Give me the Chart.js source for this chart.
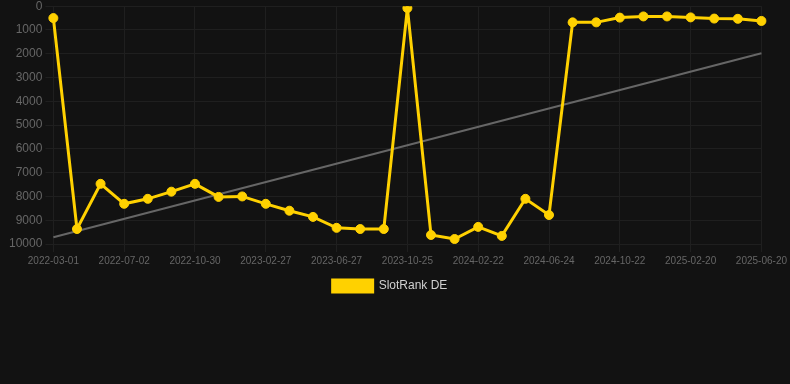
<!DOCTYPE html>
<html>
<head>
<meta charset="utf-8">
<script src="https://cdn.jsdelivr.net/npm/chart.js@4/dist/chart.umd.min.js"></script>
<style>
    html, body { margin: 0; padding: 0; background: #121212; overflow: hidden; }
    #wrap { position: relative; width: 790px; height: 306px; margin-top: -4px; }
</style>
</head>
<body>
<div id="wrap"><canvas id="chart"></canvas></div>
<script>
/* Позиция слота в рейтинге (DE) во времени, ось Y перевёрнута */

const dates = [
    '2022-03-01', '2022-04-11', '2022-05-22', '2022-07-02', '2022-08-11', '2022-09-20',
    '2022-10-30', '2022-12-09', '2023-01-18', '2023-02-27', '2023-04-08', '2023-05-18',
    '2023-06-27', '2023-08-06', '2023-09-15', '2023-10-25', '2023-12-04', '2024-01-13',
    '2024-02-22', '2024-04-03', '2024-05-14', '2024-06-24', '2024-08-03', '2024-09-12',
    '2024-10-22', '2024-12-01', '2025-01-11', '2025-02-20', '2025-04-01', '2025-05-11',
    '2025-06-20',
];
const rankDE = [
    500, 9370, 7470, 8310, 8100, 7800, 7470, 8020, 8000, 8310, 8600, 8860,
    9320, 9370, 9370, 80, 9620, 9790, 9280, 9660, 8100, 8780,
    680, 680, 480, 430, 430, 470, 520, 530, 620,
];
const trendStart = 9720;
const trendEnd = 1980;

const COLOR_RANK = '#ffd100';
const COLOR_TREND = '#666666';
const COLOR_TICK = '#666666';
const COLOR_GRID = '#1f1f1f';
const FONT = 'Liberation Sans, Arial, sans-serif';

const trend = dates.map((d, i) => (i === 0 ? trendStart : i === dates.length - 1 ? trendEnd : null));

new Chart(document.getElementById('chart'), {
    type: 'line',
    data: {
        labels: dates,
        datasets: [
            {
                label: 'SlotRank DE',
                data: rankDE,
                borderColor: COLOR_RANK,
                backgroundColor: COLOR_RANK,
                borderWidth: 3,
                pointRadius: 4.5,
                pointBorderWidth: 1,
                pointHoverRadius: 4.5,
                tension: 0,
            },
            {
                label: 'trend',
                data: trend,
                borderColor: COLOR_TREND,
                borderWidth: 2,
                pointRadius: 0,
                spanGaps: true,
            },
        ],
    },
    options: {
        animation: false,
        responsive: true,
        maintainAspectRatio: false,
        layout: { padding: { top: 0, left: 6, right: 16 } },
        plugins: {
            legend: {
                position: 'bottom',
                labels: {
                    color: '#d0d0d0',
                    boxWidth: 40,
                    boxHeight: 12,
                    font: { size: 12, family: FONT },
                    filter: (item) => item.text !== 'trend',
                },
            },
            tooltip: { enabled: false },
        },
        scales: {
            x: {
                grid: { color: COLOR_GRID },
                border: { color: COLOR_GRID },
                ticks: {
                    autoSkip: false,
                    maxRotation: 0,
                    color: COLOR_TICK,
                    font: { size: 10, family: FONT },
                    callback: (v, i) => (i % 3 === 0 ? dates[i] : null),
                },
            },
            y: {
                reverse: true,
                min: 0,
                max: 10000,
                grid: { color: COLOR_GRID },
                border: { color: COLOR_GRID },
                ticks: {
                    stepSize: 1000,
                    color: COLOR_TICK,
                    font: { size: 12, family: FONT },
                    callback: (v) => String(v),
                },
            },
        },
    },
});
</script>
</body>
</html>
